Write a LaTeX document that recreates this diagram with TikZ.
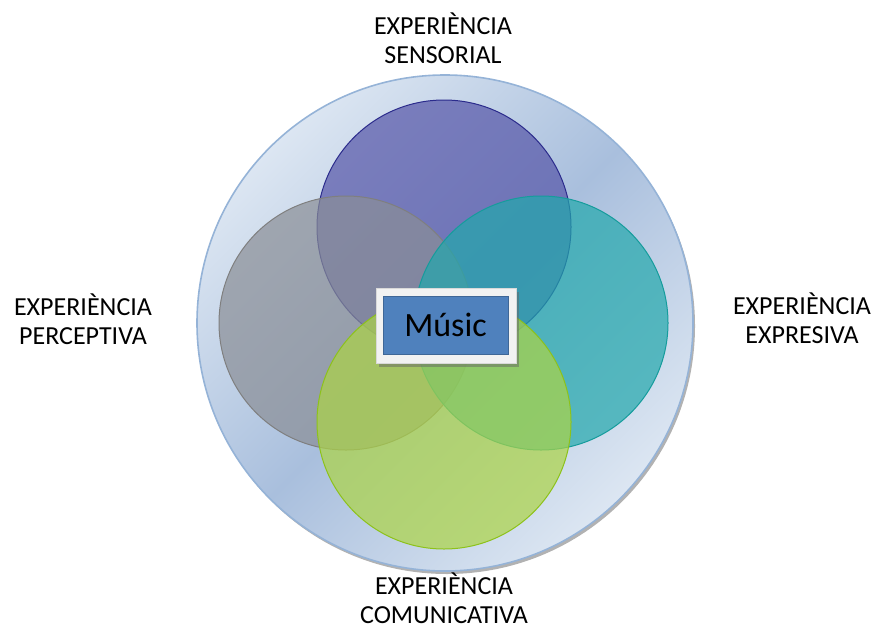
\documentclass[tikz,border=0pt]{standalone}
\usepackage{fontspec}
\setmainfont{Carlito}
\usetikzlibrary{shadings}
\definecolor{ringedge}{HTML}{95B3D7}
\definecolor{ringlight}{HTML}{DCE6F2}
\definecolor{ringdark}{HTML}{A9BFDD}
\definecolor{purplefill}{HTML}{5555A8}
\definecolor{purpleedge}{HTML}{2B2B8C}
\definecolor{grayfill}{HTML}{8A8E96}
\definecolor{grayedge}{HTML}{7F7F7F}
\definecolor{tealfill}{HTML}{22A8AC}
\definecolor{tealedge}{HTML}{159C9C}
\definecolor{greenfill}{HTML}{ACD445}
\definecolor{greenedge}{HTML}{8DC21A}
\definecolor{boxblue}{HTML}{4F81BD}
\definecolor{boxframe}{HTML}{F2F2F2}
\tikzset{
  lbl/.style={align=center, font=\fontsize{26}{29}\selectfont, text=black, inner sep=0pt},
  venn/.style={line width=1pt, fill opacity=0.7, circle, minimum size=254pt, inner sep=0pt},
}
\begin{document}
\begin{tikzpicture}[x=1pt,y=-1pt]
\useasboundingbox (0,0) rectangle (877,626);
% outer ring shadow
\fill[black!55, opacity=0.55] (447,326) circle (248);
% outer ring
\shade[shading=axis, top color=ringlight, bottom color=ringlight, middle color=ringdark, shading angle=45] (445,323) circle (248);
\draw[ringedge, line width=1.6pt] (445,323) circle (248);
% venn circles
\node[venn, draw=purpleedge, fill=purplefill] (sens) at (444,227) {};
\node[venn, draw=grayedge, fill=grayfill] (perc) at (346,323) {};
\node[venn, draw=tealedge, fill=tealfill] (expr) at (541,323) {};
\node[venn, draw=greenedge, fill=greenfill] (comu) at (444,422) {};
% center box
\fill[black!60, opacity=0.5] (379,292) rectangle (519,367);
\node[draw=black!15, fill=boxframe, minimum width=140pt, minimum height=75pt, inner sep=0pt] (frame) at (446,325.5) {};
\node[draw=boxblue!80!black, fill=boxblue, minimum width=125pt, minimum height=58pt, inner sep=0pt, font=\fontsize{34}{38}\selectfont] (music) at (445.5,325) {Músic};
% labels
\node[lbl] (tsens) at (443,38) {EXPERIÈNCIA\\SENSORIAL};
\node[lbl] (tperc) at (83,319) {EXPERIÈNCIA\\PERCEPTIVA};
\node[lbl] (texpr) at (802,318) {EXPERIÈNCIA\\EXPRESIVA};
\node[lbl] (tcomu) at (444,598) {EXPERIÈNCIA\\COMUNICATIVA};
\end{tikzpicture}
\end{document}
